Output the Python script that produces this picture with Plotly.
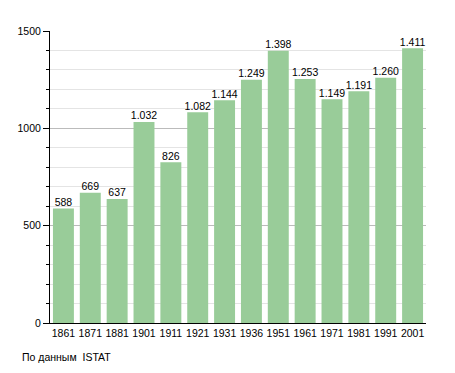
import plotly.graph_objects as go

years = ["1861", "1871", "1881", "1901", "1911", "1921", "1931", "1936", "1951", "1961", "1971", "1981", "1991", "2001"]
population = [588, 669, 637, 1032, 826, 1082, 1144, 1249, 1398, 1253, 1149, 1191, 1260, 1411]
labels = [f"{v:,}".replace(",", ".") for v in population]

FS = 10.5

fig = go.Figure()
fig.add_trace(go.Bar(
    x=years, y=population,
    marker=dict(color="#99cc99", line=dict(width=0)),
    hoverinfo="x+y",
))
fig.add_trace(go.Scatter(
    x=years, y=population, text=labels, mode="text", textposition="top center",
    textfont=dict(family="Liberation Sans, Arial", size=FS, color="#000"),
    cliponaxis=False, hoverinfo="skip",
))

fig.update_layout(
    width=455, height=373,
    margin=dict(l=50, r=29, t=31, b=50, autoexpand=False),
    paper_bgcolor="white", plot_bgcolor="white",
    bargap=0.22,
    showlegend=False,
    font=dict(family="Liberation Sans, Arial", size=FS, color="#000"),
    xaxis=dict(type="category", range=[-0.5, len(years) - 0.5], showline=True,
               linecolor="black", linewidth=1, ticks="", tickangle=0,
               tickfont=dict(size=FS)),
    yaxis=dict(range=[0, 1500], tickvals=[0, 500, 1000, 1500], showline=True,
               linecolor="black", linewidth=1, ticks="outside", ticklen=6,
               tickcolor="black", gridcolor="#bbbbbb", gridwidth=1,
               zeroline=False, tickfont=dict(size=FS),
               minor=dict(dtick=100, ticks="outside", ticklen=3, tickcolor="black",
                          showgrid=True, gridcolor="#e4e4e4")),
    annotations=[dict(text="По данным  ISTAT", xref="paper", yref="paper",
                      x=-0.08, y=-0.116, xanchor="left", yanchor="middle",
                      showarrow=False, font=dict(size=FS))],
)

fig.write_html("out.html", config={"displayModeBar": False},
               post_script="document.body.style.margin='0';")
